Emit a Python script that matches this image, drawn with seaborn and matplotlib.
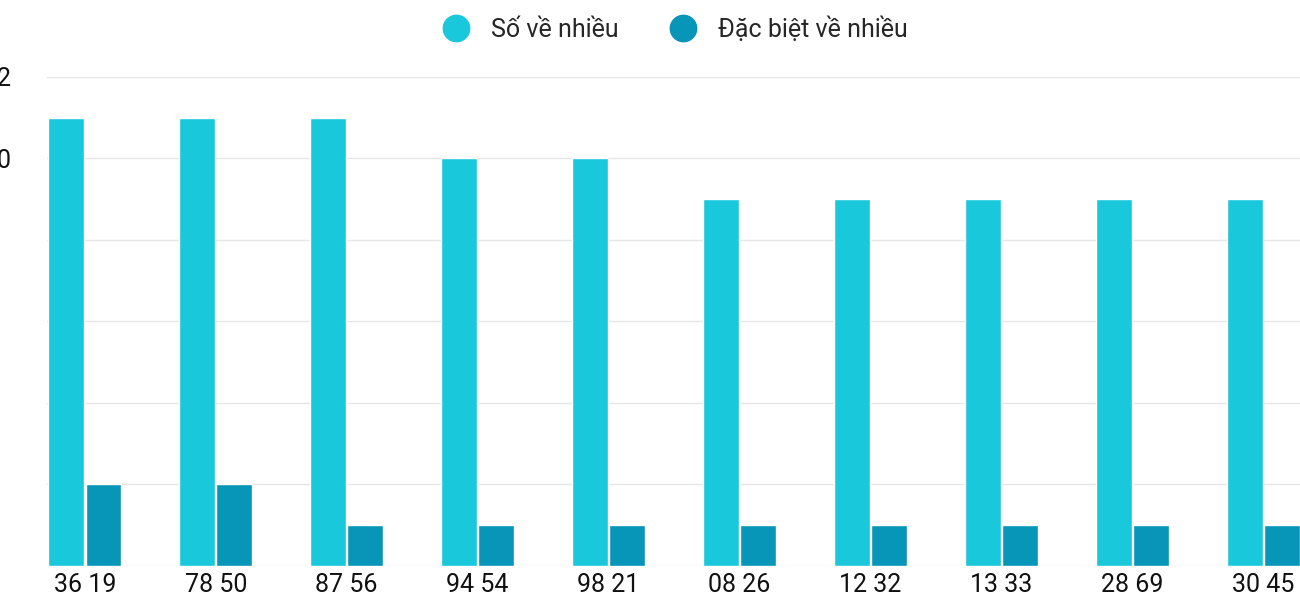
import matplotlib
matplotlib.use("Agg")
import matplotlib.pyplot as plt
import seaborn as sns
import pandas as pd
from matplotlib.lines import Line2D

categories = ["36 19","78 50","87 56","94 54","98 21","08 26","12 32","13 33","28 69","30 45"]
so_ve_nhieu = [11,11,11,10,10,9,9,9,9,9]
dac_biet = [2,2,1,1,1,1,1,1,1,1]
series = ["Số về nhiều", "Đặc biệt về nhiều"]
colors = ["#1ac8db", "#0795b8"]

df = pd.DataFrame({
    "cat": categories*2,
    "val": so_ve_nhieu + dac_biet,
    "series": [series[0]]*10 + [series[1]]*10,
})

sns.set_theme(style="white")
plt.rcParams['font.family'] = ['Roboto', 'DejaVu Sans']
fig = plt.figure(figsize=(13, 6), dpi=100)
ax = fig.add_axes([0.036, 0.057, 0.964, 0.815])
sns.barplot(data=df, x="cat", y="val", hue="series", palette=colors,
            width=0.57, gap=0.04, ax=ax, legend=False, saturation=1)
ax.set_xlim(-0.29, 9.28)
ax.set_ylim(0, 12)
ax.set_yticks(range(0, 13, 2))
ax.yaxis.grid(True, color="#e6e6e6", linewidth=1)
ax.set_axisbelow(True)
for s in ax.spines.values():
    s.set_visible(False)
ax.set_xlabel(""); ax.set_ylabel("")
ax.tick_params(axis="both", labelsize=18, length=0, colors="#111111")
ax.tick_params(axis="y", pad=16)
ax.tick_params(axis="x", pad=5)
for lbl in ax.get_yticklabels():
    lbl.set_horizontalalignment("left")
ax.yaxis.set_tick_params(pad=45)
handles = [Line2D([], [], marker="o", linestyle="", markersize=19, color=c) for c in colors]
fig.legend(handles, series, loc="center", bbox_to_anchor=(0.515, 0.952), ncol=2,
           frameon=False, fontsize=18, handletextpad=0.4, columnspacing=1.6)
fig.savefig("out.png", dpi=100)
